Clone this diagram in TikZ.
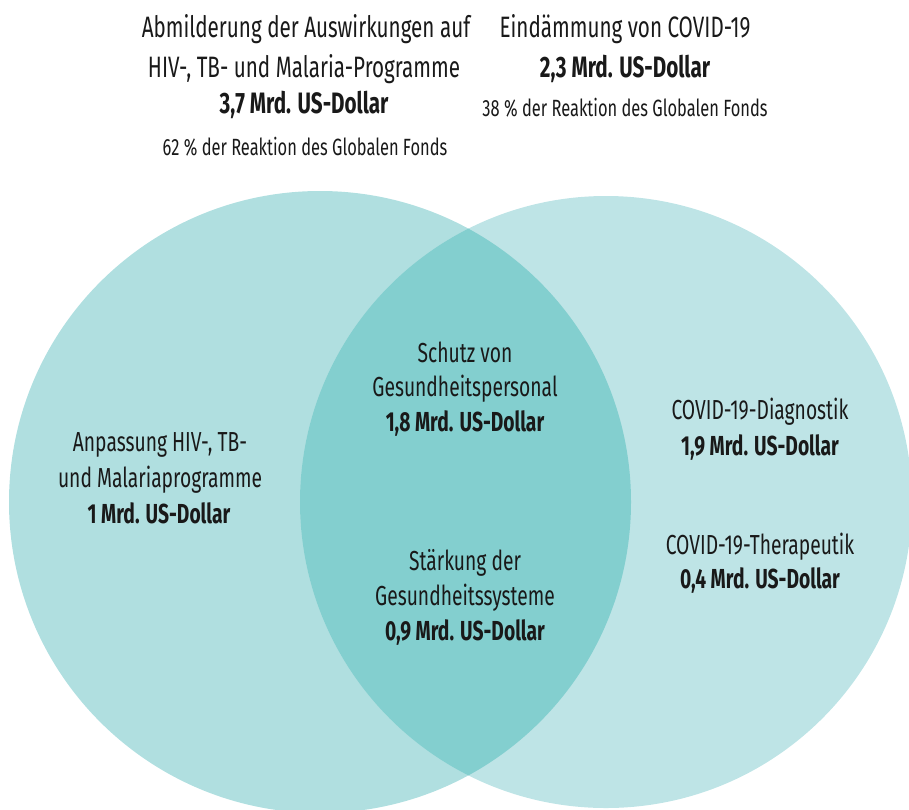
\documentclass[tikz,border=0pt]{standalone}
\usepackage{fontspec}
\setmainfont[FakeStretch=0.70]{Fira Sans}
\definecolor{leftc}{HTML}{B0DFE0}
\definecolor{rightc}{HTML}{BEE4E6}
\definecolor{lensc}{HTML}{83CFCF}
\tikzset{
  txt/.style={anchor=base, inner sep=0pt, font=\fontsize{27.5}{32}\selectfont, text=black!90},
  bold/.style={txt, font=\fontsize{27.5}{32}\selectfont\bfseries},
  toptxt/.style={txt, font=\fontsize{29.5}{34}\selectfont},
  topbold/.style={txt, font=\fontsize{29.5}{34}\selectfont\bfseries},
  small/.style={txt, font=\fontsize{23.5}{28}\selectfont},
}
\begin{document}
\begin{tikzpicture}[x=1pt,y=-1pt]
\useasboundingbox (0,0) rectangle (909,809);
\begin{scope}
\clip (0,0) rectangle (909,809);
\fill[leftc] (320,502) circle[radius=311];
\fill[rightc] (606,502) circle[radius=306];
\begin{scope}
\clip (320,502) circle[radius=311];
\fill[lensc] (606,502) circle[radius=306];
\end{scope}
\end{scope}
% top texts
\node[toptxt] (t1) at (306,37) {Abmilderung der Auswirkungen auf};
\node[toptxt] (t2) at (304,77) {HIV-, TB- und Malaria-Programme};
\node[topbold] (t3) at (304,113) {3,7 Mrd. US-Dollar};
\node[small] (t4) at (305,155) {62 \% der Reaktion des Globalen Fonds};
\node[toptxt] (r1) at (625,37) {Eindämmung von COVID-19};
\node[topbold] (r2) at (625,77) {2,3 Mrd. US-Dollar};
\node[small] (r3) at (625,116) {38 \% der Reaktion des Globalen Fonds};
% lens
\node[txt] (s1) at (465,362) {Schutz von};
\node[txt] (s2) at (465,396) {Gesundheitspersonal};
\node[bold] (s3) at (465,431) {1,8 Mrd. US-Dollar};
\node[txt] (g1) at (465,570) {Stärkung der};
\node[txt] (g2) at (465,605) {Gesundheitssysteme};
\node[bold] (g3) at (465,640) {0,9 Mrd. US-Dollar};
% left
\node[txt] (a1) at (160,451) {Anpassung HIV-, TB-};
\node[txt] (a2) at (160,487) {und Malariaprogramme};
\node[bold] (a3) at (159,523) {1 Mrd. US-Dollar};
% right
\node[txt] (d1) at (760,419) {COVID-19-Diagnostik};
\node[bold] (d2) at (760,455) {1,9 Mrd. US-Dollar};
\node[txt] (e1) at (760,554) {COVID-19-Therapeutik};
\node[bold] (e2) at (760,588) {0,4 Mrd. US-Dollar};
\end{tikzpicture}
\end{document}
